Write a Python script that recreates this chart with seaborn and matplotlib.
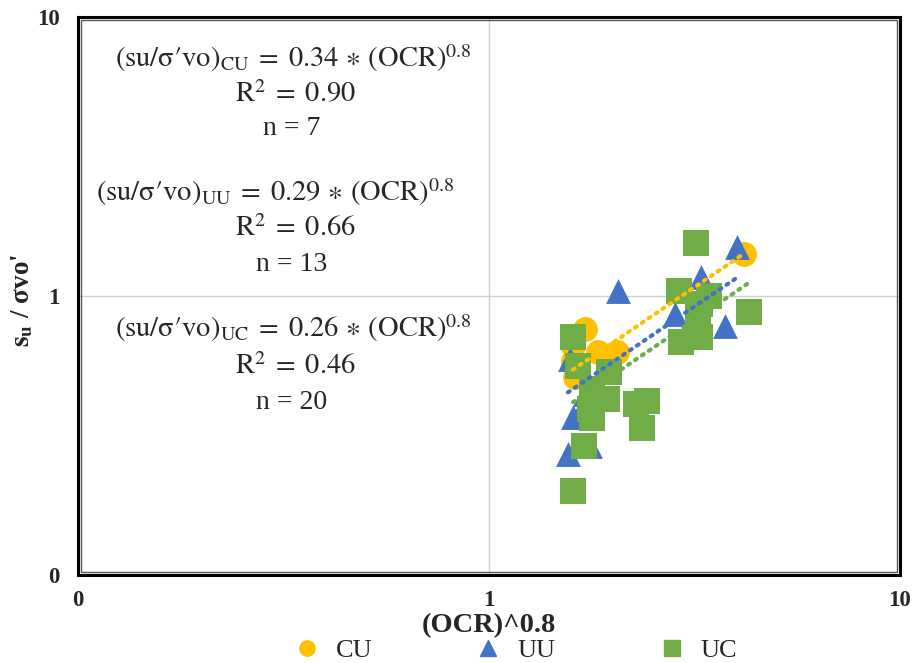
import numpy as np
import pandas as pd
import matplotlib
matplotlib.use("Agg")
import matplotlib.pyplot as plt
import seaborn as sns
from matplotlib.ticker import FixedLocator, FixedFormatter, NullLocator
from matplotlib.lines import Line2D
from matplotlib.patches import Rectangle

# ---- data ----
cu_x = [1.712, 1.601, 1.842, 2.048, 1.619, 4.173, 1.600]
cu_y = [0.762, 0.662, 0.630, 0.630, 0.513, 1.414, 0.585]

uu_x = [2.060, 4.013, 3.281, 2.835, 3.752, 1.574, 1.712, 1.601, 1.556, 1.761, 1.650, 3.263, 1.781]
uu_y = [1.042, 1.498, 1.170, 0.862, 0.781, 0.594, 0.445, 0.368, 0.271, 0.290, 0.368, 0.936, 0.464]

uc_x = [1.601, 1.646, 1.959, 1.781, 1.937, 2.279, 2.424, 2.356, 1.781, 1.702,
        1.601, 3.190, 2.899, 3.431, 3.226, 4.292, 3.263, 2.932, 3.263, 1.761]
uc_y = [0.713, 0.561, 0.534, 0.464, 0.427, 0.410, 0.420, 0.336, 0.365, 0.290,
        0.200, 1.549, 1.042, 1.000, 0.848, 0.876, 0.713, 0.684, 0.936, 0.394]

# trendline coefficients (su/σ'vo = c * (OCR)^0.8), from the chart's equations
trend_coef = {"CU": 0.34, "UU": 0.29, "UC": 0.26}
r2_vals = {"CU": "0.90", "UU": "0.66", "UC": "0.46"}
n_vals = {"CU": 7, "UU": 13, "UC": 20}

series_names = ["CU", "UU", "UC"]
colors = {"CU": "#FFC000", "UU": "#4472C4", "UC": "#70AD47"}
markers = {"CU": "o", "UU": "^", "UC": "s"}

tick_vals = [0.1, 1, 10]
tick_labels = ["0", "1", "10"]

df = pd.concat([
    pd.DataFrame({"x": cu_x, "y": cu_y, "test": "CU"}),
    pd.DataFrame({"x": uu_x, "y": uu_y, "test": "UU"}),
    pd.DataFrame({"x": uc_x, "y": uc_y, "test": "UC"}),
], ignore_index=True)

sns.set_theme(style="white")
plt.rcParams["font.family"] = ["Liberation Serif", "DejaVu Serif"]
plt.rcParams["mathtext.fontset"] = "stix"

W, H = 917, 663
fig = plt.figure(figsize=(W / 100, H / 100), dpi=100)
ax = fig.add_axes([78 / W, 88 / H, 822 / W, 558 / H])
ax.set_xscale("log")
ax.set_yscale("log")
ax.set_xlim(0.1, 10)
ax.set_ylim(0.1, 10)

for name in series_names:
    sub = df[df.test == name]
    sns.scatterplot(data=sub, x="x", y="y", ax=ax, color=colors[name],
                    marker=markers[name], s=320 if name != "UC" else 330,
                    linewidth=0, legend=False, zorder=3)

# trendlines y = c * x over each series' range
for name in series_names:
    sub = df[df.test == name]
    xs = np.linspace(sub.x.min(), sub.x.max(), 50)
    ax.plot(xs, trend_coef[name] * xs, linestyle=(0, (0.5, 1.5)),
            dash_capstyle="round", color=colors[name], linewidth=3, zorder=4)

ax.xaxis.set_major_locator(FixedLocator(tick_vals))
ax.xaxis.set_major_formatter(FixedFormatter(tick_labels))
ax.yaxis.set_major_locator(FixedLocator(tick_vals))
ax.yaxis.set_major_formatter(FixedFormatter(tick_labels))
ax.xaxis.set_minor_locator(NullLocator())
ax.yaxis.set_minor_locator(NullLocator())
ax.tick_params(axis="x", length=0, labelsize=16.5, pad=11)
ax.tick_params(axis="y", length=0, labelsize=16.5, pad=13)
for lab in ax.get_xticklabels() + ax.get_yticklabels():
    lab.set_fontweight("bold")

ax.grid(True, which="major", color="#d0d0d0", linewidth=1, zorder=0)
for sp in ax.spines.values():
    sp.set_color("black")
    sp.set_linewidth(2.2)
# inner line of the double frame
ax.add_patch(Rectangle((3 / 822, 3 / 558), 1 - 6 / 822, 1 - 6 / 558, transform=ax.transAxes,
                       fill=False, edgecolor="#555555", linewidth=1, zorder=5, clip_on=False))

ax.set_xlabel("(OCR)^0.8", fontsize=20.5, fontweight="bold")
ax.xaxis.set_label_coords(0.5, -(613 - 575) / 558)
ax.set_ylabel(r"$\mathbf{s}_\mathbf{u}$ / σvo'", fontsize=19.5, fontweight="bold")
ax.yaxis.set_label_coords(-(78 - 35) / 822, (575 - 300) / 558)

# equation annotations
ys = {"CU": (0.9265, 0.860, 0.801), "UU": (0.686, 0.620, 0.5556), "UC": (0.4427, 0.3728, 0.310)}
eqx = {"CU": 0.262, "UU": 0.240, "UC": 0.262}
for name in series_names:
    eq = (r"$(\mathrm{su/σ′vo})_{\mathrm{" + name + r"}}\;=\;" + f"{trend_coef[name]:.2f}"
          + r"\,\ast\,(\mathrm{OCR})^{0.8}$")
    r2 = r"$\mathrm{R}^{2}\;=\;" + r2_vals[name] + "$"
    nn = f"n = {n_vals[name]}"
    yy = ys[name]
    ax.text(eqx[name], yy[0], eq, transform=ax.transAxes, ha="center", va="center", fontsize=20.5)
    ax.text(0.265, yy[1], r2, transform=ax.transAxes, ha="center", va="center", fontsize=20.5)
    ax.text(0.260, yy[2], nn, transform=ax.transAxes, ha="center", va="center", fontsize=20)

handles = [Line2D([], [], linestyle="none", marker=markers[n], color=colors[n],
                  markersize=11, label=n) for n in series_names]
fig.legend(handles=handles, loc="center", bbox_to_anchor=(0.562, 0.019), ncol=3,
           frameon=False, fontsize=19, columnspacing=3.9, handletextpad=0.6,
           handlelength=1.0, borderpad=0.1)

fig.savefig("out.png", dpi=100)
